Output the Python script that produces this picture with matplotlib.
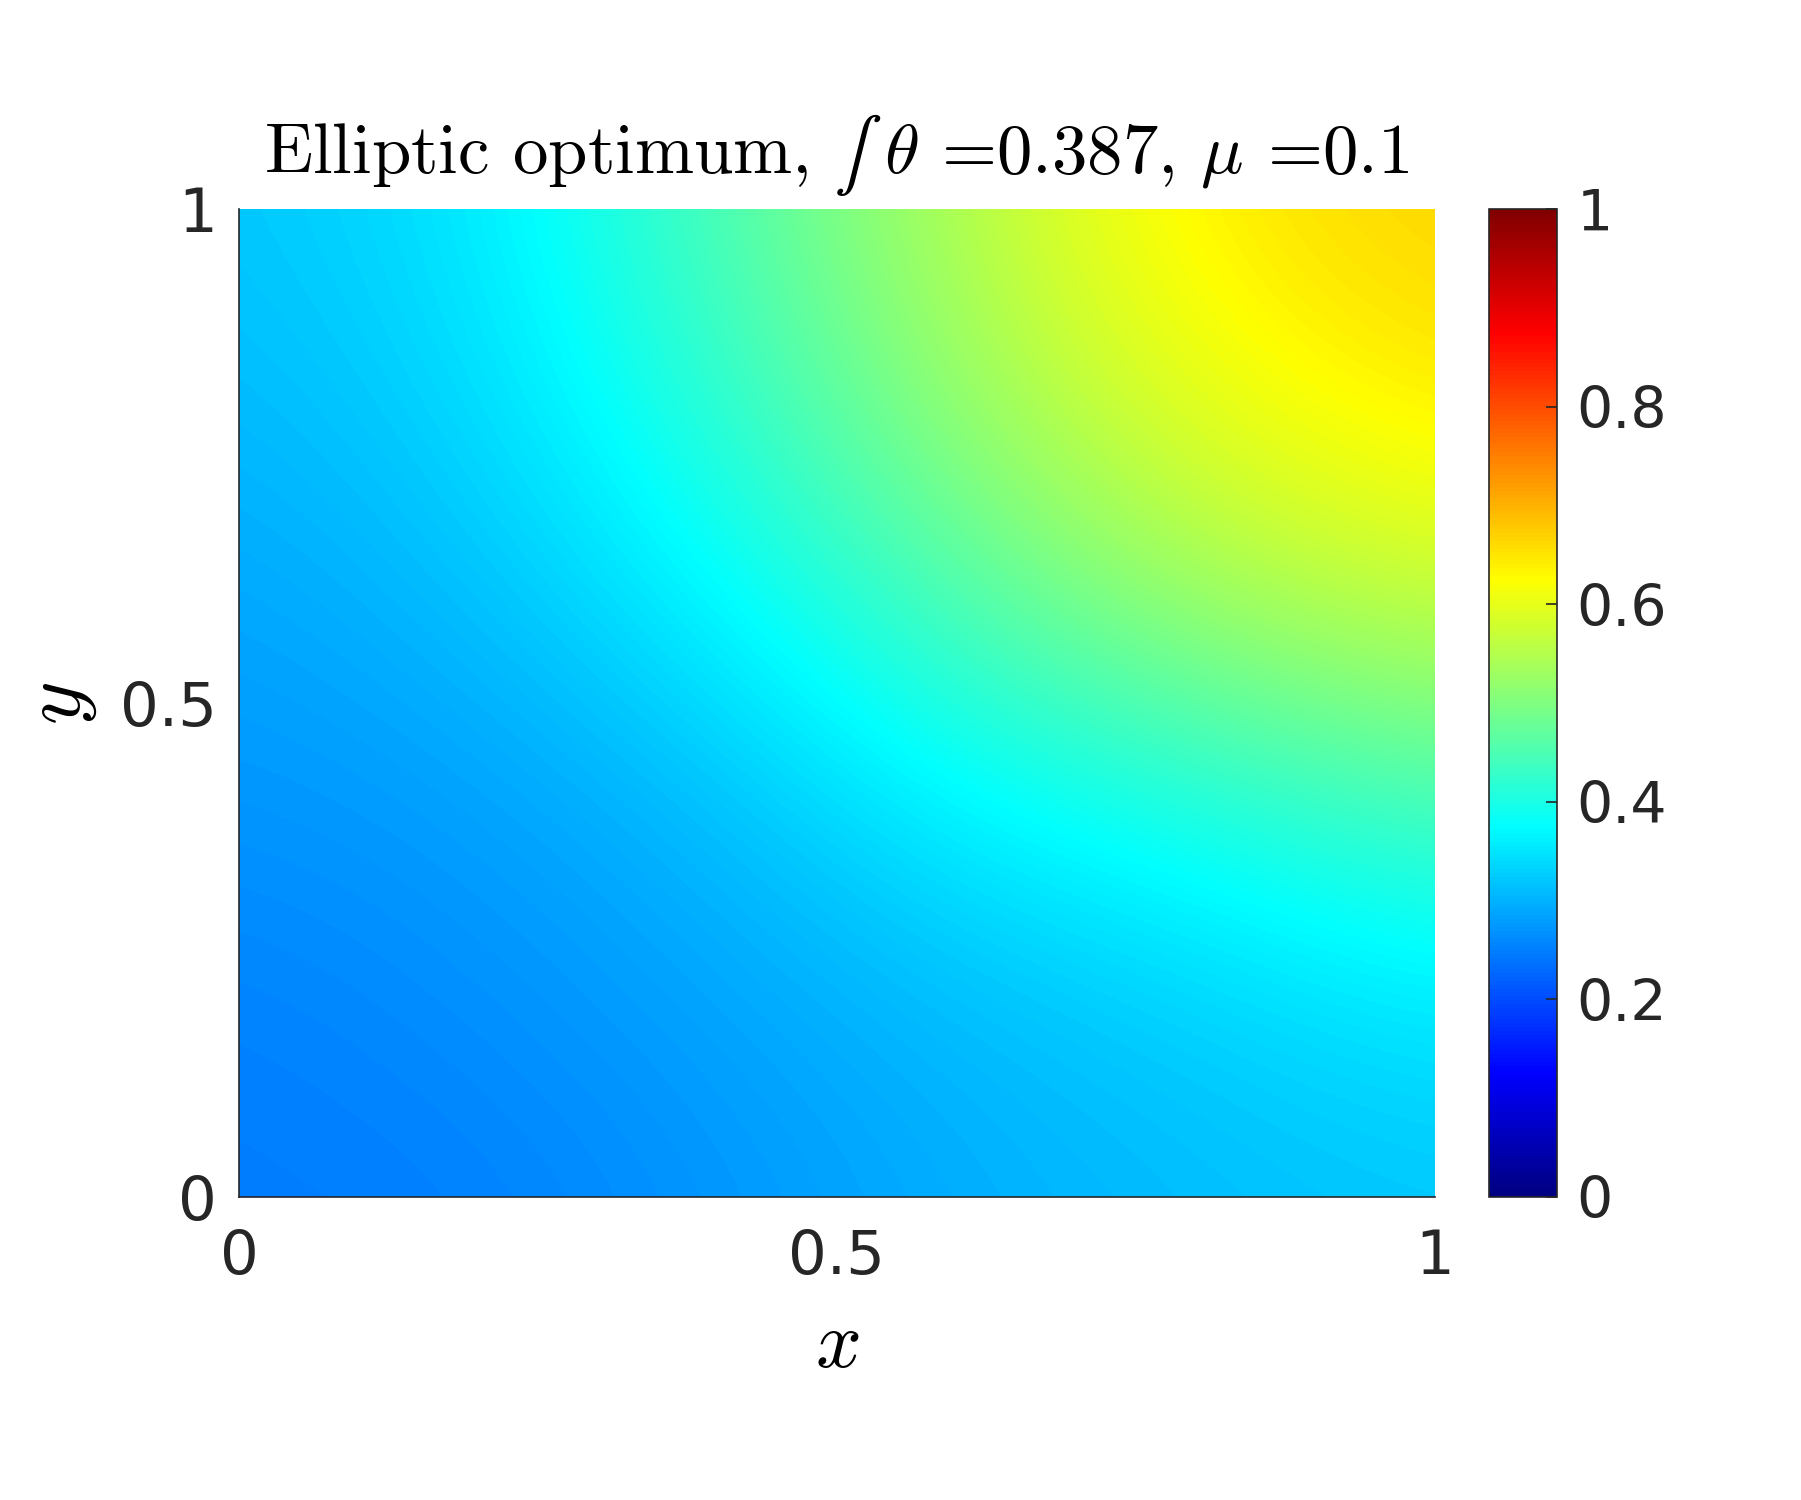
import numpy as np
import matplotlib
matplotlib.use("Agg")
import matplotlib.pyplot as plt
from matplotlib.colors import LinearSegmentedColormap

# grid coordinates and field values (rows: y from 0 to 1)
x_vals = [0.0, 0.2, 0.4, 0.6, 0.8, 1.0]
y_vals = [0.0, 0.2, 0.4, 0.6, 0.8, 1.0]
row_y00 = [0.247, 0.250, 0.272, 0.296, 0.311, 0.320]
row_y02 = [0.252, 0.267, 0.287, 0.311, 0.330, 0.355]
row_y04 = [0.272, 0.282, 0.311, 0.366, 0.400, 0.445]
row_y06 = [0.287, 0.311, 0.365, 0.450, 0.530, 0.570]
row_y08 = [0.306, 0.336, 0.415, 0.522, 0.605, 0.645]
row_y10 = [0.320, 0.350, 0.450, 0.550, 0.645, 0.667]
cbar_ticks = [0, 0.2, 0.4, 0.6, 0.8, 1]
axis_ticks = [0, 0.5, 1]
title_text = "Elliptic optimum, $\u222b\\;\\theta$ =0.387, $\\mu$ =0.1"

Z = np.array([row_y00, row_y02, row_y04, row_y06, row_y08, row_y10])
dx = (x_vals[1] - x_vals[0]) / 2
dy = (y_vals[1] - y_vals[0]) / 2

jet_m = LinearSegmentedColormap.from_list(
    "matlab_jet",
    [(0.0, (0, 0, 0.5)), (0.125, (0, 0, 1)), (0.375, (0, 1, 1)),
     (0.625, (1, 1, 0)), (0.875, (1, 0, 0)), (1.0, (0.5, 0, 0))], N=256)

plt.rcParams['mathtext.fontset'] = 'cm'
plt.rcParams['font.family'] = ['DejaVu Sans']

fig = plt.figure(figsize=(18.01, 15), dpi=100)
ax = fig.add_axes([239/1801, 1 - 1197/1500, (1435-239)/1801, (1197-209)/1500])
img = ax.imshow(Z, origin='lower', cmap=jet_m, vmin=0, vmax=1,
                extent=(x_vals[0] - dx, x_vals[-1] + dx, y_vals[0] - dy, y_vals[-1] + dy),
                interpolation='bicubic', interpolation_stage='data', aspect='auto')
ax.set_xlim(0, 1)
ax.set_ylim(0, 1)
ax.set_xticks(axis_ticks)
ax.set_xticklabels(['0', '0.5', '1'])
ax.set_yticks(axis_ticks)
ax.set_yticklabels(['0', '0.5', '1'])
tc = (0.15, 0.15, 0.15)
ax.tick_params(axis='both', length=0, labelsize=44, colors=tc)
ax.tick_params(axis='x', pad=22)
ax.tick_params(axis='y', pad=16)
for s in ['top', 'right']:
    ax.spines[s].set_visible(False)
for s in ['left', 'bottom']:
    ax.spines[s].set_color(tc)
    ax.spines[s].set_linewidth(1.2)
ax.set_xlabel(r"$x$", fontsize=58, labelpad=14)
ax.set_ylabel(r"$y$", fontsize=60, labelpad=15)
ax.set_title(title_text, fontsize=51, pad=26, fontfamily='cmr10', color='black')

cax = fig.add_axes([1489/1801, 1 - 1197/1500, (1557-1489)/1801, (1197-209)/1500])
cb = fig.colorbar(img, cax=cax, ticks=cbar_ticks)
cb.ax.set_yticklabels(['0', '0.2', '0.4', '0.6', '0.8', '1'])
cb.ax.tick_params(labelsize=41, colors=tc, direction='in', length=8, width=1.2, pad=14)
cb.outline.set_edgecolor(tc)
cb.outline.set_linewidth(1.2)

fig.savefig("out.png", dpi=100, facecolor='white')
